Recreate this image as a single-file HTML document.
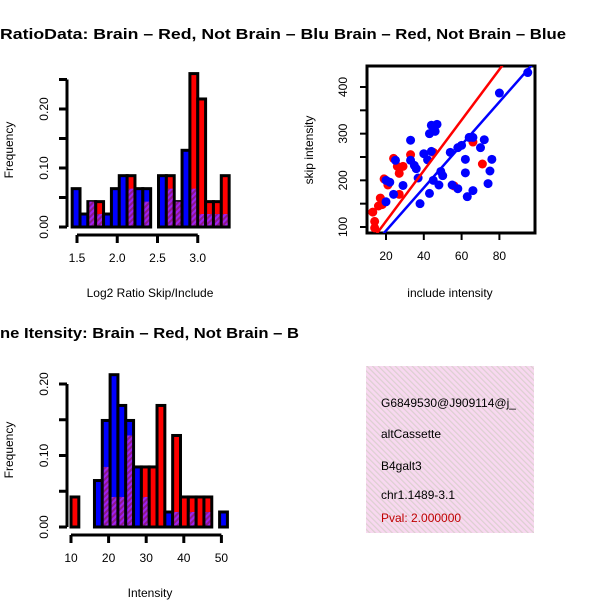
<!DOCTYPE html>
<html><head><meta charset="utf-8"><style>
body{margin:0;background:#fff}
svg{display:block;font-family:"Liberation Sans",Arial,sans-serif}
</style></head><body>
<svg id="c" width="600" height="600" viewBox="0 0 600 600">
<defs>
<pattern id="hatch" width="4" height="4" patternUnits="userSpaceOnUse" patternTransform="rotate(45)">
<rect width="4" height="4" fill="#a020f0"/><rect width="2" height="4" fill="#8b1a8b"/></pattern>
<pattern id="pink" width="4" height="4" patternUnits="userSpaceOnUse" patternTransform="rotate(-45)">
<rect width="4" height="4" fill="#f8d8f0"/><rect width="1.2" height="4" fill="#dcd0d0"/></pattern>
<clipPath id="clipSc"><rect x="367" y="66" width="168" height="167"/></clipPath>
<clipPath id="clipInfo"><rect x="366" y="366" width="168" height="167"/></clipPath>
</defs>
<text x="0" y="39" font-size="15" font-weight="bold" textLength="329" lengthAdjust="spacingAndGlyphs">RatioData: Brain – Red, Not Brain – Blu</text>
<text x="334" y="39" font-size="15" font-weight="bold" textLength="232" lengthAdjust="spacingAndGlyphs">Brain – Red, Not Brain – Blue</text>
<text x="0" y="338" font-size="15" font-weight="bold" textLength="299" lengthAdjust="spacingAndGlyphs">ne Itensity: Brain – Red, Not Brain – B</text>
<g id="tl"></g>
<g id="bl"></g>
<g id="sc"></g>
<g>
<rect x="366" y="366" width="168" height="167" fill="url(#pink)"/>
<g clip-path="url(#clipInfo)" font-size="12">
<text x="381" y="407">G6849530@J909114@j_</text>
<text x="381" y="438">altCassette</text>
<text x="381" y="470">B4galt3</text>
<text x="381" y="499">chr1.1489-3.1</text>
<text x="381" y="522" fill="#c00000">Pval: 2.000000</text>
</g></g>
</svg>
<script>
const ratioBinStart = 1.44, ratioBinWidth = 0.0975;
const ratioRed  = [0,0,0.043,0.043,0,0,0,0.087,0,0.043,0,0,0.087,0.043,0,0.26,0.217,0.043,0.043,0.087];
const ratioBlue = [0.065,0.022,0.043,0.022,0.022,0.065,0.087,0.065,0.065,0.065,0,0.087,0.065,0.043,0.13,0.065,0.022,0.022,0.022,0.022];
const ratioXTicks = [1.5,2.0,2.5,3.0];
const ratioXLabels = ["1.5","2.0","2.5","3.0"];
const ratioYTicks = [0,0.05,0.1,0.15,0.2,0.25];
const ratioYLabels = ["0.00","","0.10","","0.20",""];

const intBinStart = 10, intBinWidth = 2.08;
const intRed  = [0.042,0,0,0,0.084,0.042,0.042,0.128,0,0.084,0.084,0.17,0,0.128,0.042,0.042,0.042,0.042,0,0];
const intBlue = [0,0,0,0.065,0.149,0.213,0.17,0.149,0.084,0.042,0,0,0.021,0.021,0,0.021,0,0.021,0,0.021];
const intXTicks = [10,20,30,40,50];
const intXLabels = ["10","20","30","40","50"];
const intYTicks = [0,0.05,0.1,0.15,0.2];
const intYLabels = ["0.00","","0.10","","0.20"];

const blueInclude = [95,80,20,22,25,20,24,29,33,33,35,36,38,37,40,42,44,43,44,47,46,43,45,48,49,50,54,55,58,58,60,62,62,63,64,66,66,70,72,74,75,76];
const blueSkip    = [431,387,200,196,243,154,170,189,286,243,232,225,150,205,257,244,262,300,318,320,305,172,200,190,219,210,260,190,182,270,275,245,216,165,292,292,178,270,287,193,220,245];
const redInclude = [13,14,14,16,17,19,21,24,26,27,27,33,56,66,71,45,29,18];
const redSkip    = [132,112,98,145,162,203,190,247,230,215,170,255,188,282,235,260,230,148];
const lineSlopes = [5.42,4.6];
const lineIntercepts = [4,0];
const scXTicks = [20,40,60,80];
const scYTicks = [100,150,200,250,300,350,400];
const scYLabels = ["100","","200","","300","","400"];

const NS="http://www.w3.org/2000/svg";
function mk(parent,tag,attrs,text){const e=document.createElementNS(NS,tag);for(const k in attrs)e.setAttribute(k,attrs[k]);if(text!==undefined)e.textContent=text;parent.appendChild(e);return e;}

function hist(g,o){
  const x=v=>o.x0+(v-o.v0)*o.kx, y=v=>o.y0-v*o.ky;
  for(let i=0;i<o.red.length;i++){
    const a=o.binStart+i*o.binWidth, b=a+o.binWidth;
    const xa=x(a), xb=x(b), r=o.red[i], bl=o.blue[i], mx=Math.max(r,bl), mn=Math.min(r,bl);
    if(mx<=0) continue;
    const top=mk(g,'rect',{x:xa,y:y(mx),width:xb-xa,height:y(0)-y(mx),fill:r>=bl?'#ff0000':'#0000ff',stroke:'#000','stroke-width':3});
    
    
    if(mn>0){
      const p=mk(g,'rect',{x:xa+1.5,y:y(mn),width:xb-xa-3,height:y(0)-y(mn)-1.5,fill:'url(#hatch)'});
      
      
    }
  }
  const ya=mk(g,'line',{x1:o.axX,x2:o.axX,y1:y(o.yT[0]),y2:y(o.yT[o.yT.length-1]),stroke:'#000','stroke-width':3});
  
  
  o.yT.forEach((t,i)=>{
    mk(g,'line',{x1:o.axX-8,x2:o.axX,y1:y(t),y2:y(t),stroke:'#000','stroke-width':3});
    if(o.yL[i]){const tl=mk(g,'text',{x:48,y:y(t),'font-size':12,'text-anchor':'middle',transform:`rotate(-90 48 ${y(t)})`},o.yL[i]);
    
    }
  });
  const xa=mk(g,'line',{x1:x(o.xT[0]),x2:x(o.xT[o.xT.length-1]),y1:o.axY,y2:o.axY,stroke:'#000','stroke-width':3});
  
  
  o.xT.forEach((t,i)=>{
    mk(g,'line',{x1:x(t),x2:x(t),y1:o.axY,y2:o.axY+8,stroke:'#000','stroke-width':3});
    const tl=mk(g,'text',{x:x(t),y:o.axY+27,'font-size':12,'text-anchor':'middle'},o.xL[i]);
    
    
  });
  const xt=mk(g,'text',{x:150,y:o.axY+62,'font-size':12,'text-anchor':'middle'},o.xTitle);
  
  
  const yt=mk(g,'text',{x:13,y:o.yMid,'font-size':12,'text-anchor':'middle',transform:`rotate(-90 13 ${o.yMid})`},'Frequency');
  
  
}
hist(document.getElementById('tl'),{red:ratioRed,blue:ratioBlue,binStart:ratioBinStart,binWidth:ratioBinWidth,
  x0:77,v0:1.5,kx:80.5,y0:227,ky:590,axX:67,axY:235,xT:ratioXTicks,xL:ratioXLabels,yT:ratioYTicks,yL:ratioYLabels,
  xTitle:'Log2 Ratio Skip/Include',yMid:150});
hist(document.getElementById('bl'),{red:intRed,blue:intBlue,binStart:intBinStart,binWidth:intBinWidth,
  x0:71,v0:10,kx:3.76,y0:527,ky:715,axX:67,axY:535,xT:intXTicks,xL:intXLabels,yT:intYTicks,yL:intYLabels,
  xTitle:'Intensity',yMid:450});

(function(){
  const g=document.getElementById('sc');
  const x=v=>386+(v-20)*1.89, y=v=>227-(v-100)*0.4667;
  const box=mk(g,'rect',{x:367,y:66,width:168,height:167,fill:'none',stroke:'#000','stroke-width':3});
  
  
  const cg=mk(g,'g',{'clip-path':'url(#clipSc)'});
  redInclude.forEach((v,i)=>{const c=mk(cg,'circle',{cx:x(v),cy:y(redSkip[i]),r:4.5,fill:'#ff0000'});
    
    });
  blueInclude.forEach((v,i)=>{const c=mk(cg,'circle',{cx:x(v),cy:y(blueSkip[i]),r:4.5,fill:'#0000ff'});
    
    });
  ['#ff0000','#0000ff'].forEach((col,i)=>{
    const l=mk(cg,'line',{x1:x(0),y1:y(lineIntercepts[i]),x2:x(110),y2:y(lineIntercepts[i]+lineSlopes[i]*110),stroke:col,'stroke-width':2.5});
    
    
  });
  scXTicks.forEach(t=>{
    mk(g,'line',{x1:x(t),x2:x(t),y1:233,y2:240,stroke:'#000','stroke-width':2});
    const tl=mk(g,'text',{x:x(t),y:260,'font-size':12,'text-anchor':'middle'},String(t));
    
    
  });
  scYTicks.forEach((t,i)=>{
    mk(g,'line',{x1:360,x2:367,y1:y(t),y2:y(t),stroke:'#000','stroke-width':2});
    if(scYLabels[i]){const tl=mk(g,'text',{x:347,y:y(t),'font-size':12,'text-anchor':'middle',transform:`rotate(-90 347 ${y(t)})`},scYLabels[i]);
    
    }
  });
  const xt=mk(g,'text',{x:450,y:297,'font-size':12,'text-anchor':'middle'},'include intensity');
  
  
  const yt=mk(g,'text',{x:313,y:150,'font-size':12,'text-anchor':'middle',transform:'rotate(-90 313 150)'},'skip intensity');
  
  
})();
</script>
</body></html>
